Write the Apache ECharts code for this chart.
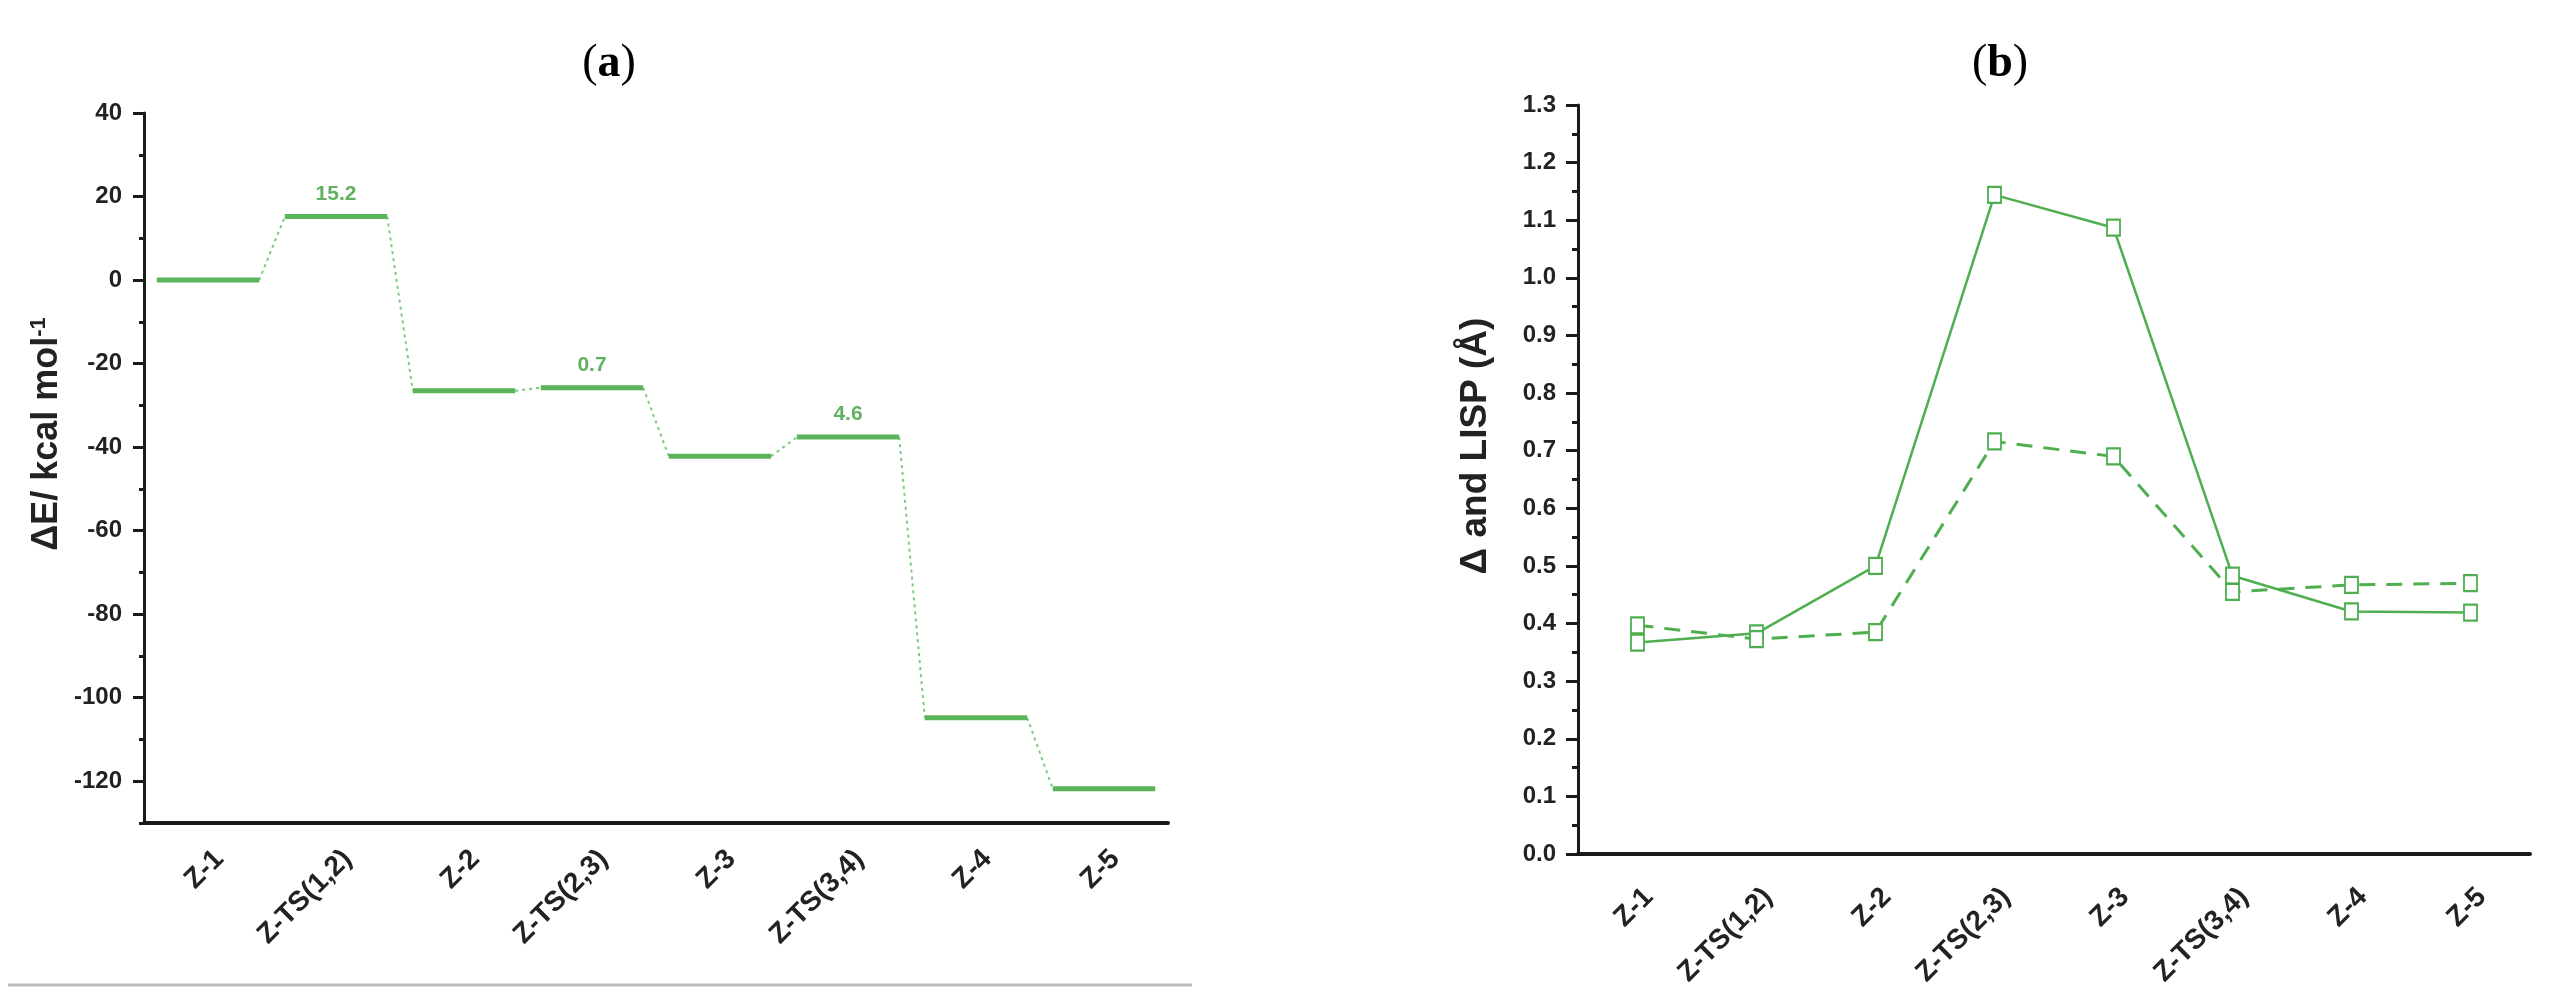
<!DOCTYPE html>
<html><head><meta charset="utf-8">
<script src="https://cdn.jsdelivr.net/npm/echarts@6/dist/echarts.min.js"></script>
<style>html,body{margin:0;padding:0;background:#fff}#c{width:2554px;height:1000px}</style>
</head><body><div id="c"></div>
<script>
// ---- data ----
const categories = ['Z-1', 'Z-TS(1,2)', 'Z-2', 'Z-TS(2,3)', 'Z-3', 'Z-TS(3,4)', 'Z-4', 'Z-5'];
const energies = [0, 15.2, -26.5, -25.8, -42.2, -37.6, -104.8, -121.8];
const barrierLabels = ['', '15.2', '', '0.7', '', '4.6', '', ''];
const energyTicks = [-120, -100, -80, -60, -40, -20, 0, 20, 40];
const deltaValues = [0.367, 0.383, 0.500, 1.144, 1.087, 0.483, 0.421, 0.419];
const lispValues = [0.397, 0.373, 0.385, 0.716, 0.690, 0.455, 0.467, 0.470];

// ---- styles ----
const FONT = '"Liberation Sans", Arial, sans-serif';
const SERIF = '"Liberation Serif", serif';
const AXIS_COLOR = '#1a1a1a';
const LEVEL_COLOR = '#5ab55a';
const LINE_COLOR = '#4fae4f';
const LABEL_COLOR = '#3a9e3a';

const levelData = energies.map((v, i) => [i, v]);
const connData = energies.slice(0, -1).map((v, i) => [i, v, energies[i + 1]]);
const labelData = energies.map((v, i) => ({ value: [i, v], label: { show: barrierLabels[i] !== '', formatter: barrierLabels[i] } }));

const tickLabelStyle = { fontFamily: FONT, fontWeight: 'bold', fontSize: 24, color: '#222' };
const catRich = { c: { fontFamily: FONT, fontWeight: 'bold', fontSize: 28, color: '#222', padding: [0, -16, 0, 0] } };

function catAxisLabel(margin) {
  return { rotate: 45, margin: margin, interval: 0, formatter: v => '{c|' + v + '}', rich: catRich };
}

function panelTitle(letter, x) {
  return { text: '({b|' + letter + '})', left: x, top: 36, textAlign: 'center',
    textStyle: { fontFamily: SERIF, fontSize: 46, fontWeight: 'normal', color: '#000',
      rich: { b: { fontFamily: SERIF, fontSize: 46, fontWeight: 'bold', color: '#000' } } } };
}

const chart = echarts.init(document.getElementById('c'), null, { renderer: 'canvas' });
chart.setOption({
  animation: false,
  backgroundColor: '#fff',
  title: [panelTitle('a', 604), panelTitle('b', 1995)],
  grid: [
    { left: 144, top: 113, width: 1024, height: 710 },
    { left: 1578, top: 105, width: 952, height: 749 }
  ],
  xAxis: [
    { type: 'category', gridIndex: 0, data: categories, boundaryGap: true,
      axisLine: { onZero: false, lineStyle: { color: AXIS_COLOR, width: 4 } },
      axisTick: { alignWithLabel: true, length: 11, lineStyle: { color: AXIS_COLOR, width: 3 } },
      axisLabel: catAxisLabel(43),
      splitLine: { show: false } },
    { type: 'category', gridIndex: 1, data: categories, boundaryGap: true,
      axisLine: { onZero: false, lineStyle: { color: AXIS_COLOR, width: 4 } },
      axisTick: { alignWithLabel: true, length: 12, lineStyle: { color: AXIS_COLOR, width: 3 } },
      axisLabel: catAxisLabel(50),
      splitLine: { show: false } }
  ],
  yAxis: [
    { type: 'value', gridIndex: 0, min: -130, max: 40, interval: 10, position: 'left',
      name: '{t|ΔE/ kcal mol}{s|-1}', nameLocation: 'middle', nameGap: 78, nameRotate: 90,
      nameTextStyle: { padding: [0, 0, 0, 68],
        rich: { t: { fontFamily: FONT, fontWeight: 'bold', fontSize: 36, color: '#222' },
                s: { fontFamily: FONT, fontWeight: 'bold', fontSize: 22, color: '#222', verticalAlign: 'top', padding: [0, 0, 16, 0] } } },
      axisLine: { show: true, lineStyle: { color: AXIS_COLOR, width: 3 } },
      axisTick: { show: true, length: 11, customValues: energyTicks, lineStyle: { color: AXIS_COLOR, width: 3 } },
      axisLabel: Object.assign({ margin: 22, customValues: energyTicks,
        formatter: v => (v % 20 === 0 ? String(v) : '') }, tickLabelStyle),
      splitLine: { show: false } },
    { type: 'value', gridIndex: 0, min: -130, max: 40, interval: 10, position: 'left', offset: 0,
      axisLine: { show: false }, axisLabel: { show: false }, splitLine: { show: false },
      axisTick: { show: true, length: 5, lineStyle: { color: AXIS_COLOR, width: 3 } } },
    { type: 'value', gridIndex: 1, min: 0, max: 1.3, interval: 0.1,
      name: 'Δ and LISP (Å)', nameLocation: 'middle', nameGap: 84, nameRotate: 90,
      nameTextStyle: { fontFamily: FONT, fontWeight: 'bold', fontSize: 37, color: '#222', padding: [0, 0, 0, 67] },
      axisLine: { show: true, lineStyle: { color: AXIS_COLOR, width: 3 } },
      axisTick: { show: true, length: 12, lineStyle: { color: AXIS_COLOR, width: 3 } },
      minorTick: { show: true, splitNumber: 2, length: 6, lineStyle: { color: AXIS_COLOR, width: 3 } },
      axisLabel: Object.assign({ margin: 22, formatter: v => v.toFixed(1) }, tickLabelStyle),
      splitLine: { show: false } }
  ],
  series: [
    { type: 'custom', xAxisIndex: 0, yAxisIndex: 0, data: connData, z: 2,
      renderItem: function (params, api) {
        const w = api.size([1, 0])[0] * 0.8;
        const p1 = api.coord([api.value(0), api.value(1)]);
        const p2 = api.coord([api.value(0) + 1, api.value(2)]);
        return { type: 'line', shape: { x1: p1[0] + w / 2, y1: p1[1], x2: p2[0] - w / 2, y2: p2[1] },
          style: { stroke: '#7cc97c', lineWidth: 2, lineDash: [3, 4] } };
      } },
    { type: 'custom', xAxisIndex: 0, yAxisIndex: 0, data: levelData, z: 3,
      renderItem: function (params, api) {
        const w = api.size([1, 0])[0] * 0.8;
        const p = api.coord([api.value(0), api.value(1)]);
        return { type: 'line', shape: { x1: p[0] - w / 2, y1: p[1], x2: p[0] + w / 2, y2: p[1] },
          style: { stroke: LEVEL_COLOR, lineWidth: 5 } };
      } },
    { type: 'scatter', xAxisIndex: 0, yAxisIndex: 0, data: labelData, symbolSize: 0, z: 4,
      label: { position: 'top', distance: 12, fontFamily: FONT, fontWeight: 'bold', fontSize: 21, color: LABEL_COLOR } },
    { type: 'line', name: 'Δ', xAxisIndex: 1, yAxisIndex: 2, data: deltaValues, z: 3,
      lineStyle: { color: LINE_COLOR, width: 2.5, type: 'solid' },
      symbol: 'rect', symbolSize: [13, 16], showAllSymbol: true,
      itemStyle: { color: '#fff', borderColor: LINE_COLOR, borderWidth: 2 } },
    { type: 'line', name: 'LISP', xAxisIndex: 1, yAxisIndex: 2, data: lispValues, z: 3,
      lineStyle: { color: LINE_COLOR, width: 3, type: [16, 11] },
      symbol: 'rect', symbolSize: [13, 16], showAllSymbol: true,
      itemStyle: { color: '#fff', borderColor: LINE_COLOR, borderWidth: 2 } }
  ],
  graphic: [
    { type: 'line', shape: { x1: 8, y1: 985, x2: 1192, y2: 985 }, style: { stroke: '#bdbdbd', lineWidth: 3 } }
  ]
});
</script></body></html>
